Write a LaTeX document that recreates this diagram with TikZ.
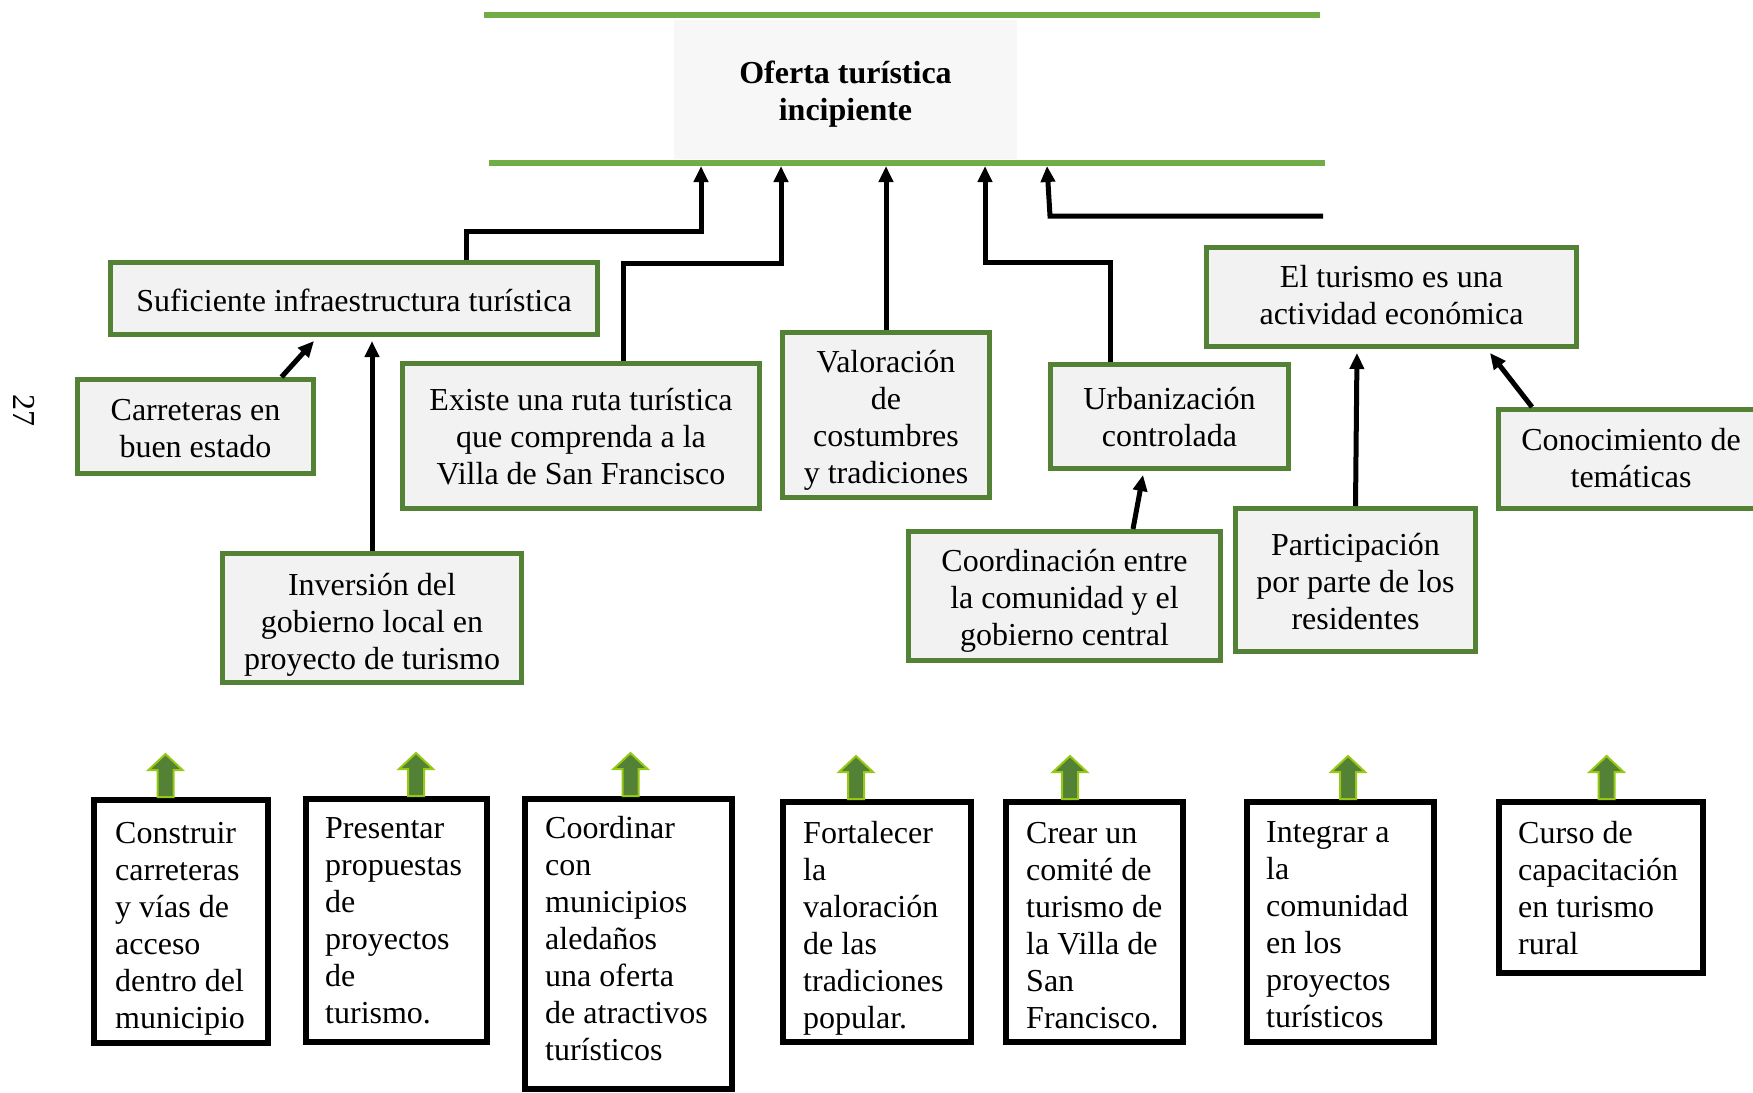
\documentclass[tikz,border=0pt]{standalone}
\usepackage{fontspec}
\setmainfont{Liberation Serif}
\usetikzlibrary{arrows.meta}
\definecolor{gborder}{HTML}{538135}
\definecolor{gfill}{HTML}{F2F2F2}
\definecolor{tfill}{HTML}{F7F7F7}
\definecolor{gline}{HTML}{70AD47}
\definecolor{gout}{RGB}{150,200,20}
\newcommand{\gup}[2]{%
  \draw[garrow] ([xshift=#2pt-8pt]#1.north) -- ++(0,-27) -- ++(-9,0) -- ++(17,-16) -- ++(17,16) -- ++(-9,0) -- ++(0,27) -- cycle;}
\begin{document}
\begin{tikzpicture}[x=1pt,y=-1pt,
  every node/.style={font=\fontsize{32}{37}\selectfont},
  greenbox/.style={draw=gborder, line width=5pt, fill=gfill, inner sep=0pt},
  gtext/.style={align=center, inner sep=0pt},
  blackbox/.style={draw=black, line width=6pt, fill=white, inner sep=0pt},
  btext/.style={align=left, inner sep=0pt, anchor=north west},
  arr/.style={line width=5pt, -{Triangle[length=16pt,width=14pt]}},
  garrow/.style={fill=gborder, draw=gout, line width=2pt, line join=miter},
  gl/.style={draw=gline, line width=6pt}]
\useasboundingbox (0,0) rectangle (1753,1092);
\clip (0,0) rectangle (1753,1092);

% title
\node[fill=tfill, minimum width=343pt, minimum height=139pt, inner sep=0pt] (T) at (845.5,89.5) {};
\node[gtext, font=\fontsize{32}{37}\selectfont\bfseries] (Tt) at ([yshift=-4.6pt]T.center) {Oferta turística\\incipiente};
\coordinate (l1a) at (484,14.5);  \coordinate (l1b) at (1320,14.5);
\coordinate (l2a) at (489,163);   \coordinate (l2b) at (1325,163);
\draw[gl] (l1a) -- (l1b);
\draw[gl] (l2a) -- (l2b);

% green boxes
\node[greenbox, minimum width=487pt, minimum height=72pt] (A) at (354,298.5) {};
\node[gtext] (At) at ([yshift=-2.2pt]A.center) {Suficiente infraestructura turística};
\node[greenbox, minimum width=236pt, minimum height=94pt] (B) at (195.5,426.5) {};
\node[gtext] (Bt) at ([yshift=-2.2pt]B.center) {Carreteras en\\buen estado};
\node[greenbox, minimum width=299pt, minimum height=129pt] (C) at (372,618) {};
\node[gtext] (Ct) at ([yshift=-6.6pt]C.center) {Inversión del\\gobierno local en\\proyecto de turismo};
\node[greenbox, minimum width=357pt, minimum height=145pt] (D) at (581,436) {};
\node[gtext] (Dt) at ([yshift=-0.8pt]D.center) {Existe una ruta turística\\que comprenda a la\\Villa de San Francisco};
\node[greenbox, minimum width=207pt, minimum height=165pt] (E) at (886,415) {};
\node[gtext] (Et) at ([yshift=-5pt]E.center) {Valoración\\de\\costumbres\\y tradiciones};
\node[greenbox, minimum width=238pt, minimum height=104pt] (F) at (1169.5,416.5) {};
\node[gtext] (Ft) at ([yshift=-1pt]F.center) {Urbanización\\controlada};
\node[greenbox, minimum width=312pt, minimum height=129pt] (G) at (1064.5,596) {};
\node[gtext] (Gt) at ([yshift=-5.3pt]G.center) {Coordinación entre\\la comunidad y el\\gobierno central};
\node[greenbox, minimum width=370pt, minimum height=99pt] (H) at (1391.5,297) {};
\node[gtext] (Ht) at ([yshift=2.2pt]H.center) {El turismo es una\\actividad económica};
\node[greenbox, minimum width=240pt, minimum height=143pt] (I) at (1355.5,580) {};
\node[gtext] (It) at ([yshift=-1.5pt]I.center) {Participación\\por parte de los\\residentes};
\node[greenbox, minimum width=265pt, minimum height=99pt] (J) at (1631,459) {};
\node[gtext] (Jt) at ([yshift=1.2pt]J.center) {Conocimiento de\\temáticas};

% arrows to the problem
\coordinate (t1) at (701,166);
\coordinate (t2) at (781,166);
\coordinate (t3) at (886,166);
\coordinate (t4) at (985,166);
\coordinate (t5) at (1047,166);
\coordinate (r5) at (1323,216);
\coordinate (Ab) at ([yshift=-4pt]A.south);
\draw[arr] ([xshift=112pt]A.north) |- (701,231) -- (t1);
\draw[arr] ([xshift=42pt]D.north) |- (781,263) -- (t2);
\draw[arr] (E.north) -- (t3);
\draw[arr] ([xshift=-59.5pt]F.north) |- (985,262) -- (t4);
\draw[arr] (r5) -- (1050,216) -- (t5);

% arrows between causes
\draw[arr] ([xshift=86pt]B.north) -- ([xshift=-40pt,yshift=-4pt]A.south);
\draw[arr] (C.north) -- (C.north |- Ab);
\draw[arr] ([xshift=68.5pt]G.north) -- ([xshift=-26.5pt,yshift=-4pt]F.south);
\draw[arr] (I.north) -- ([xshift=-34.5pt,yshift=-4pt]H.south);
\draw[arr] ([xshift=-99pt]J.north) -- ([xshift=98.5pt,yshift=-4pt]H.south);

% black boxes
\node[blackbox, minimum width=174pt, minimum height=243pt] (k1) at (181,921.5) {};
\node[btext] (kt1) at ([xshift=24pt,yshift=-25pt]k1.north west) {Construir\\carreteras\\y vías de\\acceso\\dentro del\\municipio};
\node[blackbox, minimum width=181pt, minimum height=243pt] (k2) at (396.5,920.5) {};
\node[btext] (kt2) at ([xshift=22pt,yshift=-21pt]k2.north west) {Presentar\\propuestas\\de\\proyectos\\de\\turismo.};
\node[blackbox, minimum width=206.5pt, minimum height=290pt] (k3) at (628.25,944) {};
\node[btext] (kt3) at ([xshift=23pt,yshift=-20pt]k3.north west) {Coordinar\\con\\municipios\\aledaños\\una oferta\\de atractivos\\turísticos};
\node[blackbox, minimum width=188pt, minimum height=240pt] (k4) at (877,922) {};
\node[btext] (kt4) at ([xshift=23pt,yshift=-22pt]k4.north west) {Fortalecer\\la\\valoración\\de las\\tradiciones\\popular.};
\node[blackbox, minimum width=177pt, minimum height=240pt] (k5) at (1094.5,922) {};
\node[btext] (kt5) at ([xshift=23pt,yshift=-23pt]k5.north west) {Crear un\\comité de\\turismo de\\la Villa de\\San\\Francisco.};
\node[blackbox, minimum width=187pt, minimum height=240pt] (k6) at (1340.5,922) {};
\node[btext] (kt6) at ([xshift=22pt,yshift=-22pt]k6.north west) {Integrar a\\la\\comunidad\\en los\\proyectos\\turísticos};
\node[blackbox, minimum width=204pt, minimum height=171pt] (k7) at (1601,887.5) {};
\node[btext] (kt7) at ([xshift=22pt,yshift=-22pt]k7.north west) {Curso de\\capacitación\\en turismo\\rural};

% green block arrows
\gup{k1}{-15.5}
\gup{k2}{19.5}
\gup{k3}{2.25}
\gup{k4}{-21}
\gup{k5}{-24.5}
\gup{k6}{7.5}
\gup{k7}{5.6}

% page number
\node[rotate=-90] (pn) at (24,410) {27};
\end{tikzpicture}
\end{document}
